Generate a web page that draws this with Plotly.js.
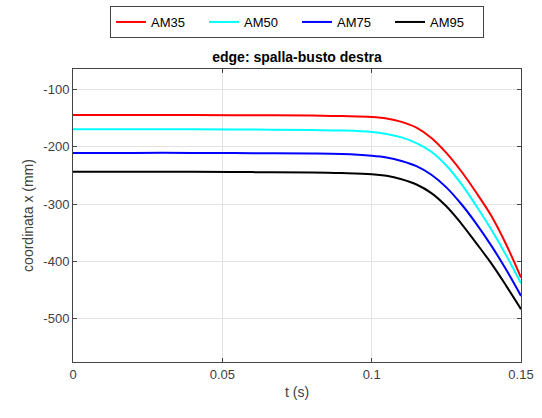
<!DOCTYPE html>
<html>
<head>
<meta charset="utf-8">
<script src="https://cdn.plot.ly/plotly-3.0.1.min.js"></script>
<style>html,body{margin:0;padding:0;background:#fff;}#chart{width:542px;height:418px;}</style>
</head>
<body>
<div id="chart"></div>
<script>
const t = [0, 0.02, 0.04, 0.06, 0.08, 0.09, 0.1, 0.105, 0.11, 0.115, 0.12, 0.125, 0.13, 0.135, 0.14, 0.145, 0.15];
const am35 = [-145, -145, -145, -145.5, -146, -147, -148.5, -151, -157, -167, -185, -211, -243, -280, -320, -370, -428];
const am50 = [-170, -170, -170, -170.5, -171, -172, -174.5, -178, -184, -194, -209, -233, -265, -303, -344, -389, -438];
const am75 = [-211, -211, -211, -211.5, -212, -213, -216, -219, -225, -234, -249, -271, -300, -334, -372, -414, -460];
const am95 = [-244, -244, -244, -244.5, -245, -246, -248, -251, -257, -266, -281, -304, -334, -368, -403, -442, -483];
const seriesNames = ['AM35', 'AM50', 'AM75', 'AM95'];
const seriesColors = ['#ff0000', '#00ffff', '#0000ff', '#000000'];
const seriesData = [am35, am50, am75, am95];
const xTicks = [0, 0.05, 0.1, 0.15];
const xTickText = ['0', '0.05', '0.1', '0.15'];
const yTicks = [-500, -400, -300, -200, -100];
const yTickText = ['-500', '-400', '-300', '-200', '-100'];

const traces = seriesData.map((y, i) => ({
  x: t, y: y, type: 'scatter', mode: 'lines', name: seriesNames[i],
  line: {color: seriesColors[i], width: 2, shape: 'spline', smoothing: 1}
}));

const fontFam = 'Liberation Sans, Arial, sans-serif';
const axCommon = {
  showline: true, mirror: 'ticks', linecolor: '#444', linewidth: 1,
  ticks: 'inside', ticklen: 4, tickcolor: '#444',
  showgrid: true, gridcolor: '#e3e3e3', gridwidth: 1, zeroline: false,
  tickfont: {family: fontFam, size: 13, color: '#404040'}
};
const layout = {
  width: 542, height: 418,
  margin: {l: 73, r: 21, t: 69, b: 56},
  paper_bgcolor: '#fff', plot_bgcolor: '#fff',
  font: {family: fontFam, color: '#262626'},
  title: {text: '<b>edge: spalla-busto destra</b>', font: {family: fontFam, size: 14, color: '#000'},
          x: 0.5, xref: 'paper', xanchor: 'center', y: 1 - 57/418, yanchor: 'middle'},
  xaxis: Object.assign({}, axCommon, {range: [0, 0.15], tickvals: xTicks, ticktext: xTickText,
    title: {text: 't (s)', font: {family: fontFam, size: 14, color: '#404040'}, standoff: 6}}),
  yaxis: Object.assign({}, axCommon, {range: [-575, -65], tickvals: yTicks, ticktext: yTickText,
    title: {text: 'coordinata x (mm)', font: {family: fontFam, size: 14, color: '#404040'}, standoff: 6}}),
  showlegend: true,
  legend: {orientation: 'h', x: 0.5, xanchor: 'center', yref: 'container', y: 1 - 6/418, yanchor: 'top',
    bordercolor: '#444', borderwidth: 1, bgcolor: '#fff',
    font: {family: fontFam, size: 13, color: '#000'}, itemwidth: 30, tracegroupgap: 0,
    entrywidth: 48, entrywidthmode: 'pixels'}
};
Plotly.newPlot('chart', traces, layout, {displayModeBar: false, staticPlot: true});
</script>
</body>
</html>
